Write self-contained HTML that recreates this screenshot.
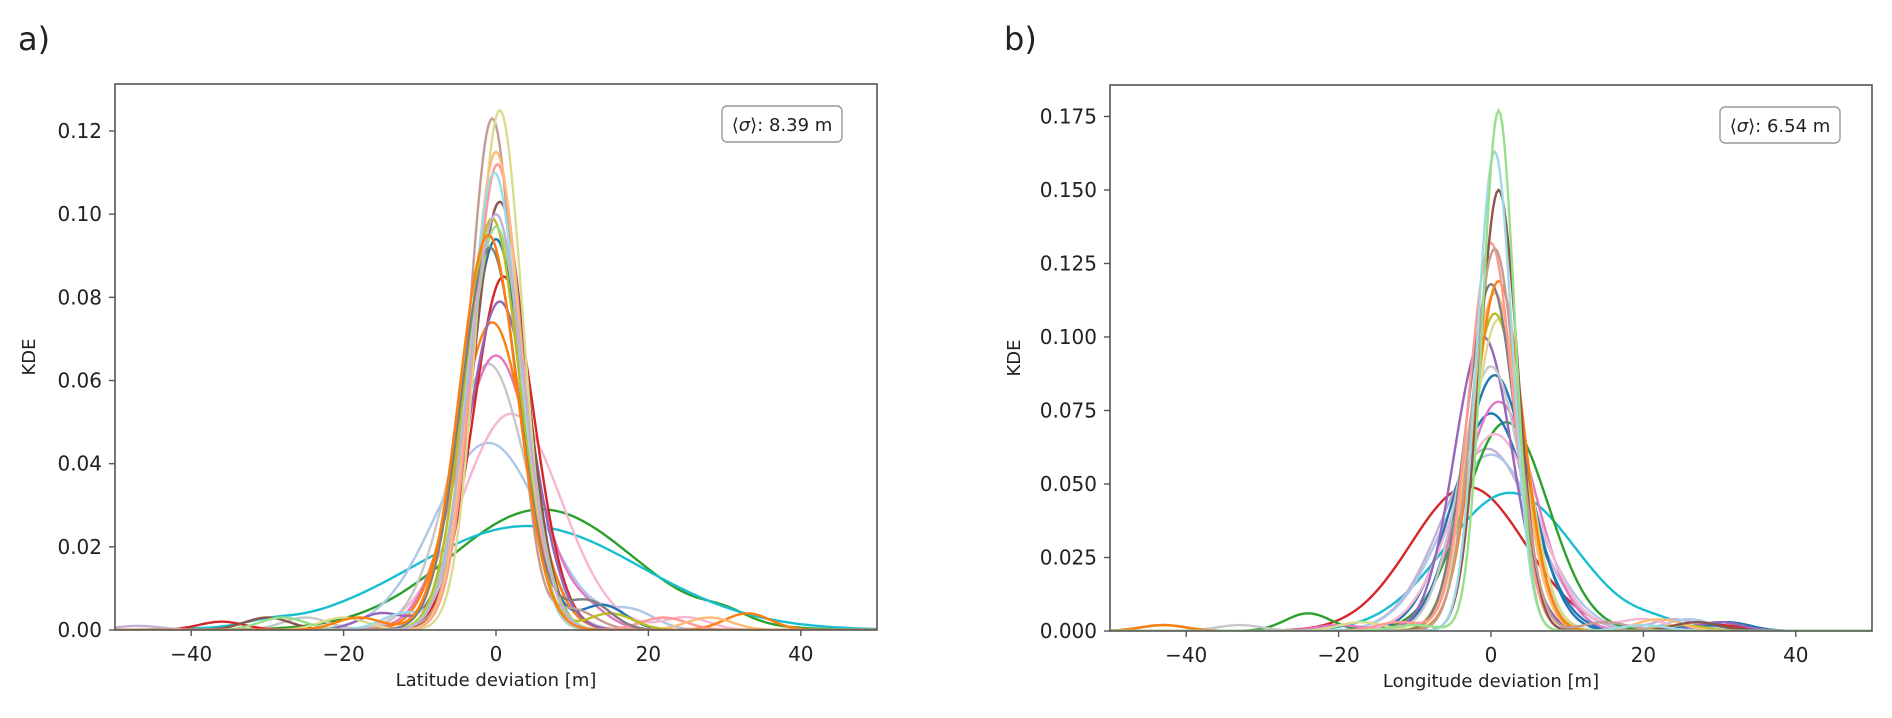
<!DOCTYPE html>
<html><head><meta charset="utf-8"><style>
body{margin:0;background:#fff;}
svg text{font-family:"DejaVu Sans","Liberation Sans",sans-serif;fill:#222;}
</style></head><body>
<svg id="fig" width="1892" height="713" viewBox="0 0 1892 713" xmlns="http://www.w3.org/2000/svg">
<text x="18" y="50" font-size="32">a)</text>
<text x="1004" y="50" font-size="32">b)</text>
<g id="pa"></g>
<g id="pb"></g>
</svg>
<script>
const NS="http://www.w3.org/2000/svg";
const xTicks=[-40,-20,0,20,40];
const aYTicks=[0,0.02,0.04,0.06,0.08,0.10,0.12];
const aYLabels=["0.00","0.02","0.04","0.06","0.08","0.10","0.12"];
const bYTicks=[0,0.025,0.05,0.075,0.1,0.125,0.15,0.175];
const bYLabels=["0.000","0.025","0.050","0.075","0.100","0.125","0.150","0.175"];
const aColors=["#2ca02c","#17becf","#aec7e8","#f7b6d2","#c7c7c7","#e377c2","#ff7f0e","#d62728","#1f77b4","#9467bd","#8c564b","#c49c94","#dbdb8d","#ff9896","#ffbb78","#9edae5","#bcbd22","#98df8a","#7f7f7f","#c5b0d5","#ff7f0e"];
const aCenters=[6,4,-1,2,-1,0,-0.5,1,0,0.5,0.5,-0.5,0.5,0.2,0,-0.2,-0.5,0,-0.8,0,-1];
const aPeaks=[0.029,0.025,0.045,0.052,0.064,0.066,0.074,0.085,0.094,0.079,0.103,0.123,0.125,0.112,0.115,0.110,0.099,0.097,0.092,0.100,0.095];
const aWidths=[12,15,7,6.5,5,5,4.5,4,3.7,4.2,3.5,3.0,3.0,3.2,3.2,3.3,3.6,3.7,3.8,3.6,3.8];
const aBumpC=[30,-30,18,25,-25,12,33,-36,14,-15,-30,10,-20,22,28,-12,15,-28,12,-47,-18];
const aBumpH=[0.002,0.001,0.004,0.003,0.003,0.004,0.004,0.002,0.006,0.004,0.003,0.005,0.003,0.003,0.003,0.004,0.004,0.003,0.007,0.001,0.003];
const bColors=["#d62728","#17becf","#c5b0d5","#aec7e8","#2ca02c","#1f77b4","#e377c2","#f7b6d2","#1f77b4","#9467bd","#c7c7c7","#dbdb8d","#bcbd22","#ffbb78","#7f7f7f","#ff7f0e","#ff9896","#8c564b","#c49c94","#9edae5","#98df8a"];
const bCenters=[-3,2.5,-0.5,0,2,0,1,0.5,0.5,-1,0,1,0.5,0.5,0,1,0,1,0.5,0.5,1];
const bPeaks=[0.049,0.047,0.062,0.060,0.071,0.074,0.078,0.067,0.087,0.100,0.090,0.106,0.108,0.115,0.118,0.119,0.132,0.150,0.130,0.163,0.177];
const bWidths=[7.5,8.5,6,6.2,5.5,5,4.8,5.5,4.4,3.8,4,3.5,3.5,3.3,3.2,3.2,2.9,2.5,2.9,2.3,2.1];
const bBumpC=[30,22,24,26,-24,31,-20,20,28,30,-33,-17,25,22,-43,-43,-12,27,15,20,-10];
const bBumpH=[0.002,0.002,0.004,0.004,0.006,0.003,0.002,0.004,0.002,0.003,0.002,0.003,0.002,0.004,0.002,0.002,0.003,0.003,0.003,0.002,0.002];

function el(p,t,a){const e=document.createElementNS(NS,t);for(const k in a)e.setAttribute(k,a[k]);p.appendChild(e);return e;}
function panel(g,L,R,T,B,ymax,yT,yL,colors,cs,ps,ws,bc,bh,xlab,sig,boxX,boxY){
  const sx=v=>L+(v+50)/100*(R-L);
  const sy=v=>B-v/ymax*(B-T);
  const cid="clip"+L;
  const cp=el(g,"clipPath",{id:cid});el(cp,"rect",{x:L,y:T,width:R-L,height:B-T});
  const lines=el(g,"g",{"clip-path":"url(#"+cid+")"});
  for(let i=0;i<colors.length;i++){
    let d="";
    for(let x=-50;x<=50.001;x+=0.25){
      const y=ps[i]*Math.exp(-((x-cs[i])**2)/(2*ws[i]*ws[i]))+bh[i]*Math.exp(-((x-bc[i])**2)/(2*9));
      d+=(d?"L":"M")+sx(x).toFixed(1)+","+sy(y).toFixed(1);
    }
    const p=el(lines,"path",{d:d,fill:"none",stroke:colors[i],"stroke-width":2.4});
    
    
  }
  const fr=el(g,"rect",{x:L,y:T,width:R-L,height:B-T,fill:"none",stroke:"#555","stroke-width":1.6});
  
  
  xTicks.forEach(v=>{
    el(g,"line",{x1:sx(v),x2:sx(v),y1:B,y2:B+6,stroke:"#555","stroke-width":1.4});
    const t=el(g,"text",{x:sx(v),y:B+31,"font-size":20,"text-anchor":"middle"});
    t.textContent=(v<0?"\u2212"+(-v):""+v);
    
    
  });
  yT.forEach((v,i)=>{
    el(g,"line",{x1:L-6,x2:L,y1:sy(v),y2:sy(v),stroke:"#555","stroke-width":1.4});
    const t=el(g,"text",{x:L-13,y:sy(v)+7,"font-size":20,"text-anchor":"end"});
    t.textContent=yL[i];
    
    
  });
  const xl=el(g,"text",{x:(L+R)/2,y:B+56,"font-size":18,"text-anchor":"middle"});
  xl.textContent=xlab;
  
  
  const yl=el(g,"text",{x:0,y:0,"font-size":18,"text-anchor":"middle",transform:"translate("+(L-(yL[0].length>4?90:80))+","+((T+B)/2)+") rotate(-90)"});
  yl.textContent="KDE";
  
  
  const bx=el(g,"rect",{x:boxX,y:boxY,width:120,height:36,rx:5,fill:"#fff",stroke:"#999","stroke-width":1.4});
  
  
  const st=el(g,"text",{x:boxX+60,y:boxY+25,"font-size":18,"text-anchor":"middle"});
  st.innerHTML='\u27E8<tspan font-style="italic">\u03C3</tspan>\u27E9: '+sig;
  
  
}
panel(document.getElementById("pa"),115,877,84,630,0.1313,aYTicks,aYLabels,aColors,aCenters,aPeaks,aWidths,aBumpC,aBumpH,"Latitude deviation [m]","8.39 m",722,106);
panel(document.getElementById("pb"),1110,1872,85,631,0.1857,bYTicks,bYLabels,bColors,bCenters,bPeaks,bWidths,bBumpC,bBumpH,"Longitude deviation [m]","6.54 m",1720,107);
</script>
</body></html>
